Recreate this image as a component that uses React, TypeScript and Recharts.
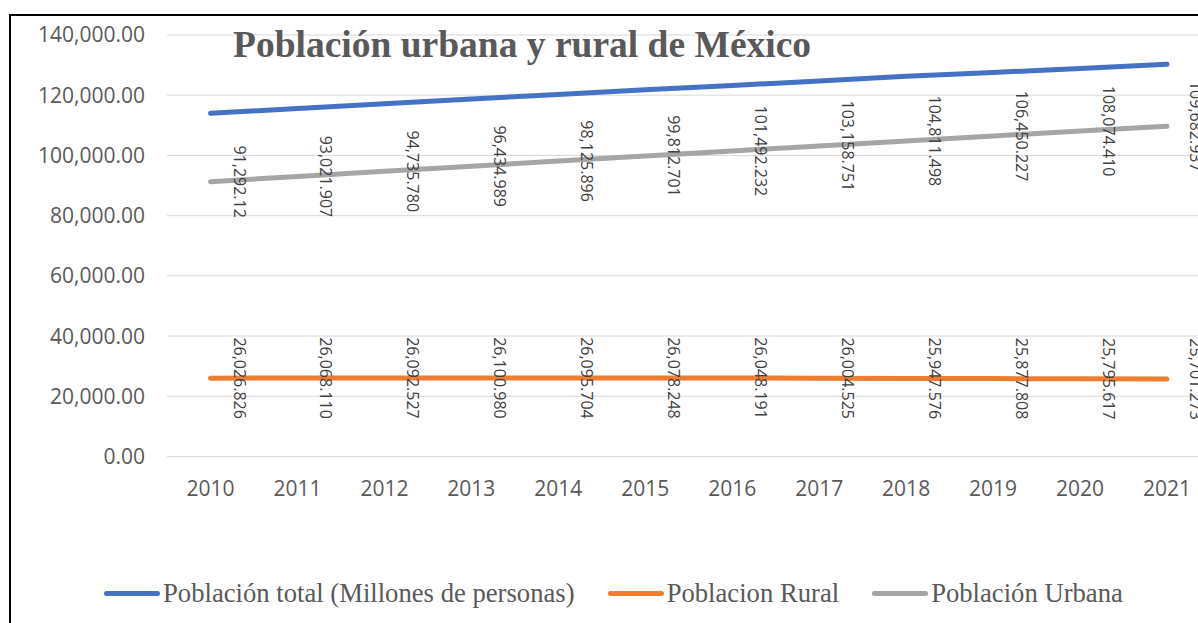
import React from 'react';
import { LineChart, Line, XAxis, YAxis, CartesianGrid, Legend, LabelList } from 'recharts';

const years = ['2010', '2011', '2012', '2013', '2014', '2015', '2016', '2017', '2018', '2019', '2020', '2021'];
const totalPop = [113990, 115580, 117180, 118740, 120270, 121830, 123220, 124750, 126280, 127540, 128900, 130270];
const ruralPop = [26026.826, 26068.11, 26092.527, 26100.98, 26095.704, 26078.248, 26048.191, 26004.525, 25947.576, 25877.808, 25795.617, 25701.273];
const urbanPop = [91292.12, 93021.907, 94735.78, 96434.989, 98125.896, 99812.701, 101492.232, 103158.751, 104811.498, 106450.227, 108074.41, 109682.937];
const ruralLabels = ['26,026.826', '26,068.110', '26,092.527', '26,100.980', '26,095.704', '26,078.248', '26,048.191', '26,004.525', '25,947.576', '25,877.808', '25,795.617', '25,701.273'];
const urbanLabels = ['91,292.12', '93,021.907', '94,735.780', '96,434.989', '98,125.896', '99,812.701', '101,492.232', '103,158.751', '104,811.498', '106,450.227', '108,074.410', '109,682.937'];
const yTicks = [0, 20000, 40000, 60000, 80000, 100000, 120000, 140000];
const seriesNames = ['Población total (Millones de personas)', 'Poblacion Rural', 'Población Urbana'];
const title = 'Población urbana y rural de México';

const data = years.map((y, i) => ({
  year: y,
  total: totalPop[i],
  rural: ruralPop[i],
  urban: urbanPop[i],
  ruralLabel: ruralLabels[i],
  urbanLabel: urbanLabels[i],
}));

const fmtTick = (v: number) =>
  v.toLocaleString('en-US', { minimumFractionDigits: 2, maximumFractionDigits: 2 });

const RotLabel = (props: any) => {
  const { x, y, value } = props;
  const cx = x + 29;
  return (
    <text
      x={cx}
      y={y}
      transform={`rotate(90 ${cx} ${y})`}
      textAnchor="middle"
      dominantBaseline="central"
      fontSize={16}
      fill="#404040"
      fontFamily='"Open Sans", sans-serif'
    >
      {value}
    </text>
  );
};

const LegendContent = (props: any) => {
  const payload = [...(props.payload || [])].sort(
    (a: any, b: any) => seriesNames.indexOf(a.value) - seriesNames.indexOf(b.value)
  );
  return (
    <div
      style={{
        display: 'flex',
        alignItems: 'center',
        fontFamily: '"Liberation Serif", serif',
        fontSize: 26.67,
        color: '#595959',
        lineHeight: '30px',
        whiteSpace: 'nowrap',
      }}
    >
      {payload.map((p: any) => (
        <div key={p.value} style={{ display: 'flex', alignItems: 'center', marginRight: 33 }}>
          <span
            style={{
              display: 'inline-block',
              width: 56,
              height: 5,
              borderRadius: 2.5,
              background: p.color,
              marginRight: 3,
            }}
          />
          <span>{p.value}</span>
        </div>
      ))}
    </div>
  );
};

export default function App() {
  return (
    <div
      style={{
        position: 'fixed',
        left: 0,
        top: 0,
        width: 1198,
        height: 623,
        overflow: 'hidden',
        background: '#fff',
      }}
    >
      <div
        style={{
          position: 'absolute',
          left: 9,
          top: 14,
          width: 1400,
          height: 800,
          borderLeft: '2px solid #000',
          borderTop: '2px solid #000',
        }}
      />
      <div style={{ position: 'absolute', left: 0, top: 0 }}>
        <LineChart
          width={1240}
          height={623}
          data={data}
          margin={{ top: 35, right: 29.5, left: 0, bottom: 96.5 }}
          style={{ fontFamily: '"Open Sans", sans-serif' }}
        >
          <CartesianGrid vertical={false} stroke="#D9D9D9" strokeWidth={1} />
          <XAxis
            dataKey="year"
            height={40}
            padding={{ left: 43.5, right: 43.5 }}
            axisLine={{ stroke: '#D9D9D9' }}
            tickLine={false}
            tickSize={6}
            tickMargin={19}
            tick={{ fontSize: 21, fill: '#595959' }}
            interval={0}
          />
          <YAxis
            width={167}
            domain={[0, 140000]}
            ticks={yTicks}
            tickFormatter={fmtTick}
            axisLine={false}
            tickLine={false}
            tickSize={6}
            tickMargin={16}
            tick={{ fontSize: 21, fill: '#595959' }}
          />
          <Legend
            content={<LegendContent />}
            wrapperStyle={{ position: 'absolute', left: 104, top: 578, width: 1100 }}
          />
          <Line
            name={seriesNames[0]}
            dataKey="total"
            stroke="#4472C4"
            strokeWidth={5}
            strokeLinecap="round"
            dot={false}
            isAnimationActive={false}
          />
          <Line
            name={seriesNames[1]}
            dataKey="rural"
            stroke="#ED7D31"
            strokeWidth={5}
            strokeLinecap="round"
            dot={false}
            isAnimationActive={false}
          >
            <LabelList dataKey="ruralLabel" content={<RotLabel />} />
          </Line>
          <Line
            name={seriesNames[2]}
            dataKey="urban"
            stroke="#A5A5A5"
            strokeWidth={5}
            strokeLinecap="round"
            dot={false}
            isAnimationActive={false}
          >
            <LabelList dataKey="urbanLabel" content={<RotLabel />} />
          </Line>
        </LineChart>
      </div>
      <div
        style={{
          position: 'absolute',
          left: 233,
          top: 26,
          fontFamily: '"Liberation Serif", serif',
          fontWeight: 'bold',
          fontSize: 37.5,
          lineHeight: '37px',
          color: '#595959',
          whiteSpace: 'nowrap',
        }}
      >
        {title}
      </div>
    </div>
  );
}
